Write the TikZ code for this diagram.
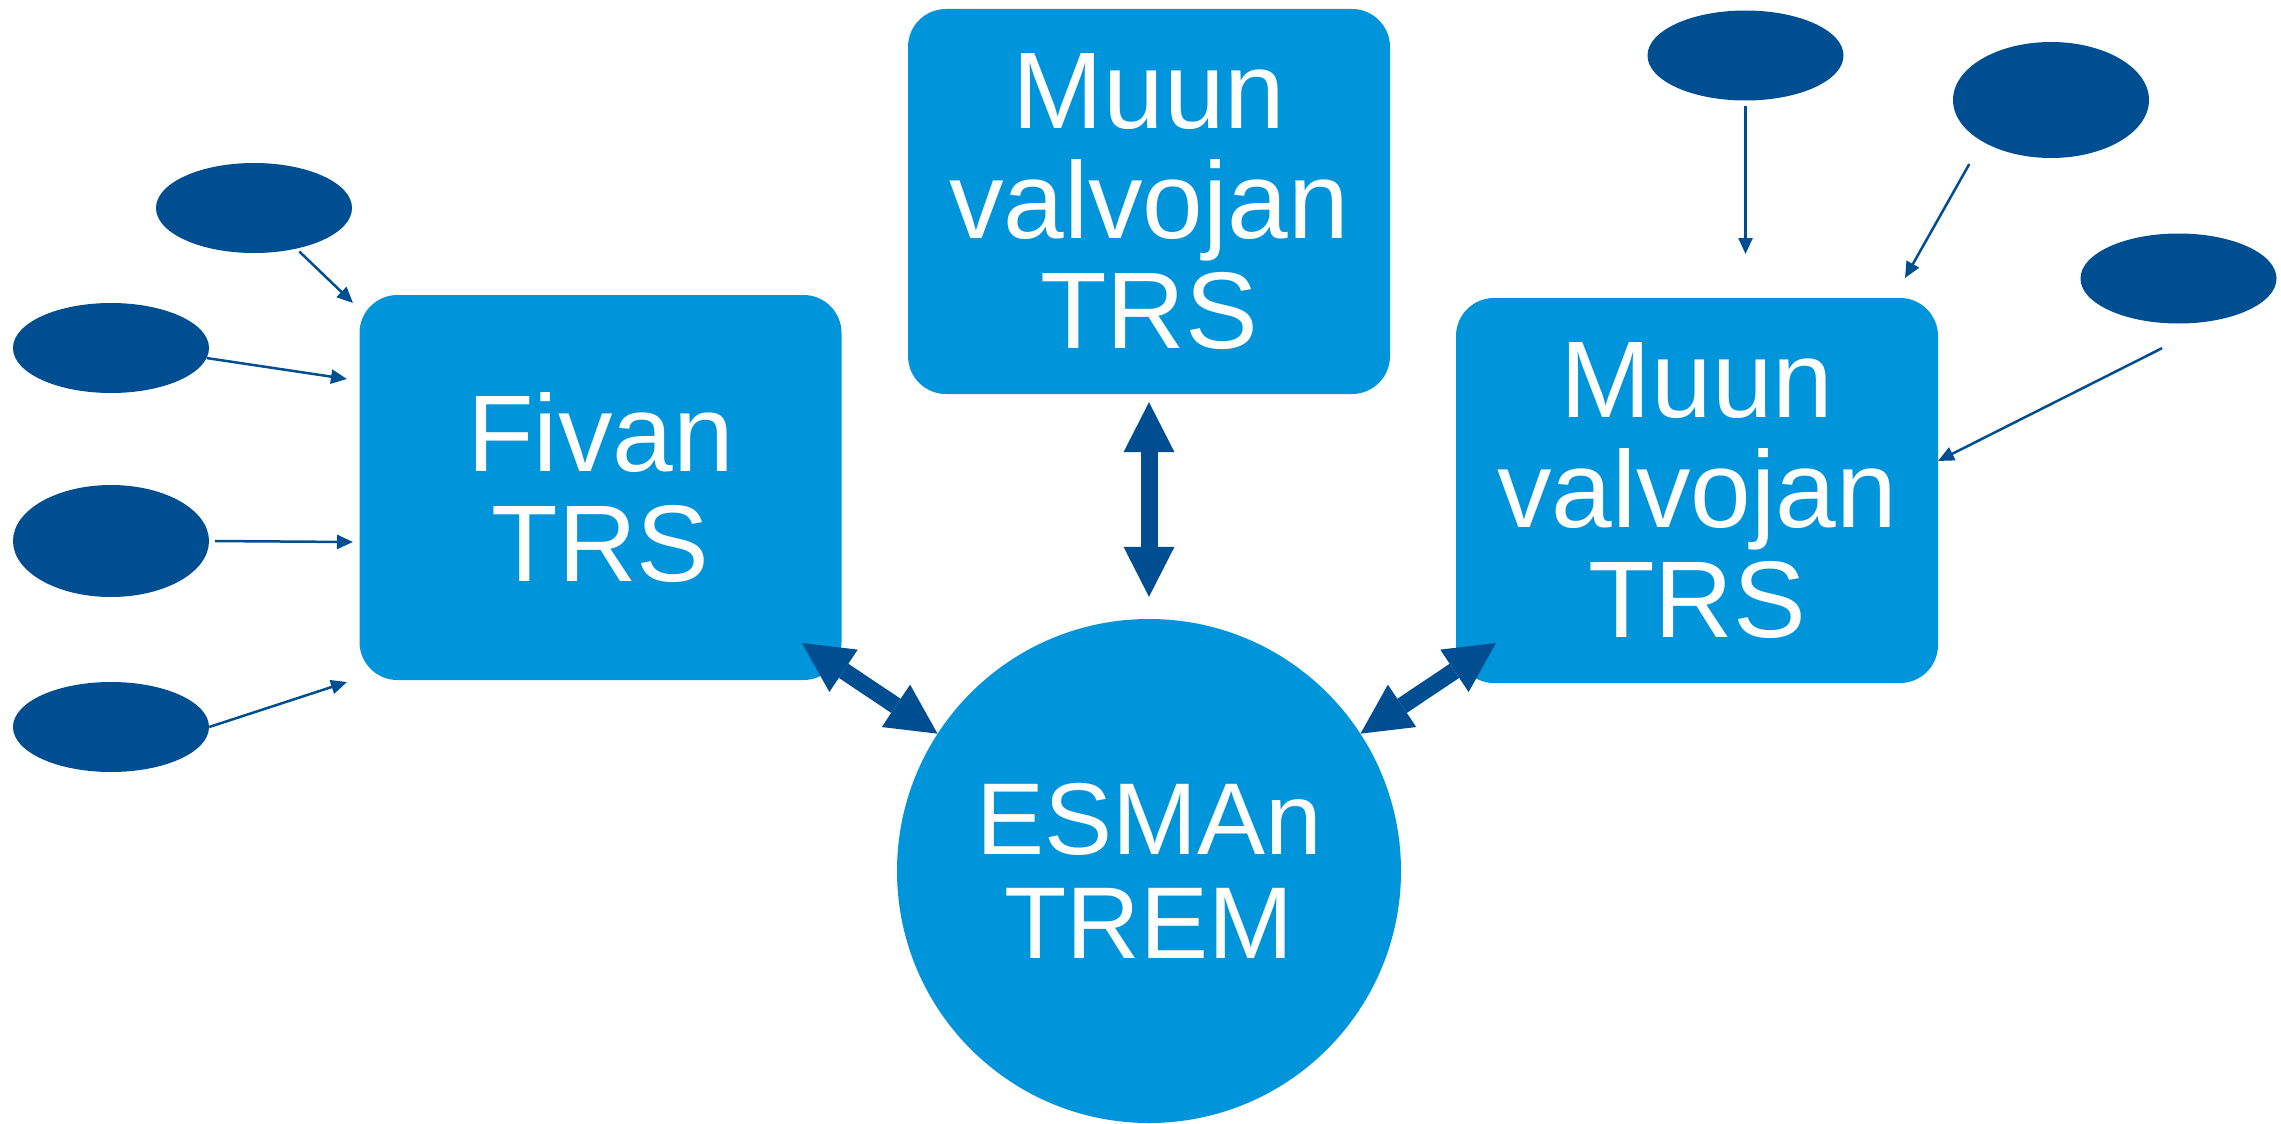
\documentclass[tikz,border=0pt]{standalone}
\usepackage{fontspec}
\setmainfont{Liberation Sans}
\usetikzlibrary{shapes.geometric,arrows.meta,calc}
\definecolor{boxblue}{RGB}{0,149,218}
\definecolor{darkblue}{RGB}{0,78,146}
\begin{document}
\begin{tikzpicture}[x=1pt,y=-1pt,
  trsbox/.style={rectangle, rounded corners=38pt, fill=boxblue, text=white,
    minimum width=482pt, minimum height=385pt, inner sep=0pt, align=center,
    font=\fontsize{109}{110}\selectfont},
  hub/.style={circle, fill=boxblue, text=white, minimum size=504pt, inner sep=0pt,
    align=center, font=\fontsize{102}{104}\selectfont},
  src/.style={ellipse, fill=darkblue, minimum width=196pt, minimum height=90pt, inner sep=0pt},
  feed/.style={draw=darkblue, line width=2.5pt, -{Triangle[length=16pt,width=14pt]}},
  fat/.style={draw=darkblue, line width=17pt,
    {Triangle[length=50pt,width=51pt,line width=0pt]}-{Triangle[length=50pt,width=51pt,line width=0pt]}}
]
\useasboundingbox (0,0) rectangle (2281,1124);

% main nodes
\node[trsbox] (fivan) at (600.5,487.5) {Fivan\\TRS};
\node[trsbox] (muun1) at (1149,201.5) {Muun\\valvojan\\TRS};
\node[trsbox] (muun2) at (1697,490.5) {Muun\\valvojan\\TRS};
\node[hub] (esman) at (1149,871) {ESMAn\\TREM};

% source ellipses
\node[src] (l1) at (254,208) {};
\node[src] (l2) at (111,348) {};
\node[src, minimum height=112pt] (l3) at (111,541) {};
\node[src] (l4) at (111,727) {};
\node[src] (r1) at (1745.5,55.5) {};
\node[src, minimum height=116pt] (r2) at (2051,100) {};
\node[src] (r3) at (2178.5,278.5) {};

% free ends
\coordinate (t1) at (353,303);
\coordinate (t2) at (347,379);
\coordinate (t3) at (353,542);
\coordinate (t4) at (347,682);
\coordinate (rt1) at (1745.5,254);
\coordinate (rt2) at (1905,278);
\coordinate (rt3) at (1938,461);
\coordinate (fa1) at (802,643);
\coordinate (fa2) at (1496,643);

% thin arrows
\draw[feed, shorten <=4pt] (l1) -- (t1);
\draw[feed] (l2.-6) -- (t2);
\draw[feed, shorten <=6pt] (l3.east) -- (t3);
\draw[feed] (l4.east) -- (t4);
\draw[feed, shorten <=5pt] (r1.south) -- (rt1);
\draw[feed, shorten <=26pt] (r2.211) -- (rt2);
\draw[feed, shorten <=63pt] (r3.-46) -- (rt3);

% fat double arrows
\draw[fat, shorten <=8pt, shorten >=22pt] (muun1.south) -- (esman.north);
\draw[fat] (fa1) -- (esman.147);
\draw[fat] (esman.33) -- (fa2);
\end{tikzpicture}
\end{document}
